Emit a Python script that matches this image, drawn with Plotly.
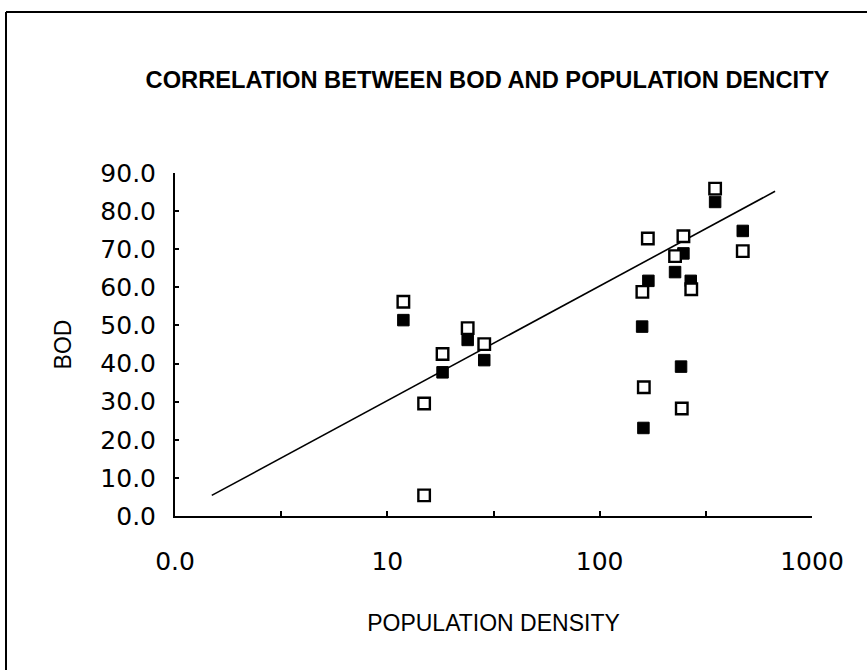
import plotly.graph_objects as go

# Data
filled_density = [11.9, 23.9, 28.6, 18.2, 349.7, 472, 248, 226.5, 169.6, 268.5, 158.5, 241.7, 160.7]
filled_bod = [51.4, 46.2, 40.9, 37.7, 82.4, 74.8, 68.9, 64.0, 61.7, 61.7, 49.7, 39.2, 23.1]

open_density = [11.9, 23.9, 28.6, 18.2, 14.9, 14.9, 349.7, 472, 168.6, 248, 226.5, 158.9, 270, 161.4, 243.6]
open_bod = [56.2, 49.3, 45.1, 42.5, 29.5, 5.4, 85.9, 69.5, 72.8, 73.4, 68.2, 58.8, 59.5, 33.8, 28.2]

trend_density = [1.49, 670]
trend_bod = [5.4, 85.2]

x_tickvals = [1, 3.1623, 10, 31.623, 100, 316.23, 1000]
x_ticktext = ["0.0", "", "10", "", "100", "", "1000"]
y_tickvals = [0, 10, 20, 30, 40, 50, 60, 70, 80, 90]

TEXT_FONT = "Liberation Sans, Arial, sans-serif"
NUM_FONT = "DejaVu Sans, sans-serif"

fig = go.Figure()
fig.add_trace(go.Scatter(
    x=trend_density, y=trend_bod, mode="lines",
    line=dict(color="black", width=1.6), showlegend=False, hoverinfo="skip"))
fig.add_trace(go.Scatter(
    x=filled_density, y=filled_bod, mode="markers",
    marker=dict(symbol="square", size=11.5, color="black",
                line=dict(color="black", width=1)),
    showlegend=False))
fig.add_trace(go.Scatter(
    x=open_density, y=open_bod, mode="markers",
    marker=dict(symbol="square", size=11.5, color="white",
                line=dict(color="black", width=2.4)),
    showlegend=False))

L, R, T, B = 175, 55, 173, 154
W, H = 867, 670
pw = W - L - R
ph = H - T - B

def px_x(p):
    return (p - L) / pw

def px_y(p):
    return (H - B - p) / ph

fig.update_layout(
    width=W, height=H,
    margin=dict(l=L, r=R, t=T, b=B, autoexpand=False),
    paper_bgcolor="white", plot_bgcolor="white",
    title=dict(text="<b>CORRELATION BETWEEN BOD AND POPULATION DENCITY</b>",
               font=dict(family=TEXT_FONT, size=23.7, color="black"),
               x=487.5 / W, y=1 - 80 / H, xanchor="center", yanchor="middle",
               xref="container", yref="container"),
    xaxis=dict(type="log", range=[0, 3], tickvals=x_tickvals, ticktext=x_ticktext,
               ticks="inside", ticklen=5, tickwidth=1.5, tickcolor="black",
               showline=True, linecolor="black", linewidth=2, showgrid=False,
               zeroline=False, ticklabelstandoff=22,
               tickfont=dict(family=NUM_FONT, size=25, color="black"),
               title=dict(text="POPULATION DENSITY", standoff=40,
                          font=dict(family=TEXT_FONT, size=23, color="black"))),
    yaxis=dict(range=[0, 90], tickvals=y_tickvals, tickformat=".1f",
               ticks="inside", ticklen=4, tickwidth=1.5, tickcolor="black",
               showline=True, linecolor="black", linewidth=2, showgrid=False,
               zeroline=False, ticklabelstandoff=12,
               tickfont=dict(family=NUM_FONT, size=25, color="black"),
               title=dict(text="BOD", standoff=22,
                          font=dict(family=TEXT_FONT, size=23, color="black"))),
    shapes=[
        dict(type="line", xref="paper", yref="paper",
             x0=px_x(6), x1=px_x(6), y0=px_y(12), y1=px_y(H + 5),
             line=dict(color="black", width=2)),
        dict(type="line", xref="paper", yref="paper",
             x0=px_x(6), x1=px_x(W + 5), y0=px_y(12), y1=px_y(12),
             line=dict(color="black", width=2)),
    ],
)

fig.write_html("out.html", config={"displayModeBar": False},
               post_script="document.body.style.margin='0';")
